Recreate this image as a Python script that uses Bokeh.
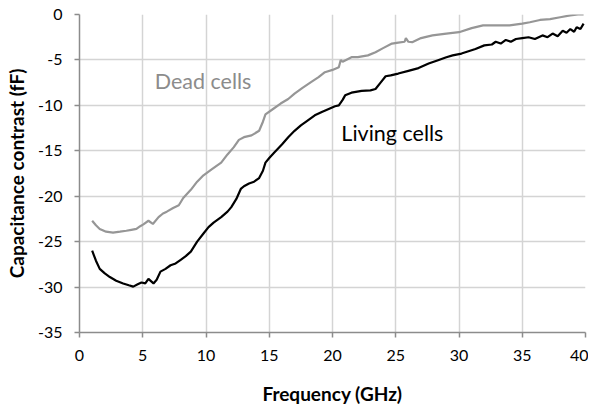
from bokeh.plotting import figure
from bokeh.models import Range1d, FixedTicker, Label, PrintfTickFormatter
from bokeh.embed import file_html
from bokeh.resources import INLINE

# Living cells (black)
living_f = [1.0, 1.3, 1.6, 2.0, 2.4, 2.9, 3.45, 3.9, 4.25, 4.6, 4.9, 5.2, 5.45, 5.85, 6.1,
            6.4, 6.8, 7.2, 7.6, 8.0, 8.4, 8.8, 9.3, 9.8, 10.2, 10.6, 11.2, 11.7, 12.0, 12.4,
            12.75, 13.0, 13.4, 13.8, 14.2, 14.5, 14.7, 15.0, 15.4, 16.0, 16.5, 17.0, 17.5, 18.0,
            18.6, 19.2, 19.7, 20.2, 20.5, 20.8, 21.0, 21.5, 22.3, 23.0, 23.4, 23.8, 24.2, 24.6,
            25.2, 26.0, 26.8, 27.6, 28.4, 29.0, 29.5, 30.2, 31.3, 32.0, 32.6, 32.9, 33.3, 33.7,
            34.1, 34.5, 35.0, 35.5, 36.0, 36.6, 37.0, 37.4, 37.8, 38.2, 38.5, 38.8, 39.1, 39.3,
            39.6, 39.85]
living_c = [-26.0, -27.1, -28.0, -28.5, -28.9, -29.3, -29.6, -29.8, -29.95, -29.7, -29.5, -29.6,
            -29.1, -29.6, -29.2, -28.3, -28.0, -27.6, -27.4, -27.0, -26.6, -26.1, -25.0, -24.1,
            -23.4, -22.9, -22.3, -21.7, -21.2, -20.3, -19.2, -18.9, -18.6, -18.4, -18.0, -17.2,
            -16.3, -15.8, -15.2, -14.3, -13.5, -12.8, -12.2, -11.7, -11.1, -10.7, -10.4, -10.1,
            -10.0, -9.4, -8.9, -8.6, -8.4, -8.35, -8.2, -7.5, -6.8, -6.7, -6.5, -6.2, -5.9, -5.4,
            -5.0, -4.7, -4.5, -4.3, -3.8, -3.4, -3.3, -3.0, -3.2, -2.8, -3.0, -2.7, -2.6, -2.5,
            -2.7, -2.3, -2.5, -2.1, -2.4, -1.8, -2.0, -1.6, -1.9, -1.4, -1.6, -1.0]

# Dead cells (gray)
dead_f = [1.0, 1.3, 1.6, 2.1, 2.65, 3.2, 3.7, 4.1, 4.5, 4.8, 5.05, 5.45, 5.8, 6.25, 6.6, 6.9,
          7.4, 7.85, 8.2, 8.8, 9.3, 9.8, 10.5, 11.2, 11.7, 12.2, 12.6, 13.0, 13.6, 14.2, 14.5,
          14.7, 15.3, 15.9, 16.5, 17.0, 17.6, 18.3, 18.9, 19.4, 20.0, 20.5, 20.65, 20.8, 21.5,
          22.0, 22.8, 23.4, 24.0, 24.7, 25.2, 25.7, 25.8, 26.0, 26.3, 27.0, 27.9, 29.0, 30.0,
          31.0, 31.9, 33.0, 34.0, 35.0, 35.6, 36.4, 37.2, 38.0, 38.8, 39.4, 39.85]
dead_c = [-22.7, -23.2, -23.6, -23.9, -24.0, -23.9, -23.8, -23.7, -23.6, -23.3, -23.1, -22.7,
          -23.05, -22.3, -21.9, -21.7, -21.3, -21.0, -20.2, -19.3, -18.4, -17.7, -17.0, -16.3,
          -15.4, -14.6, -13.8, -13.5, -13.3, -12.8, -11.8, -11.0, -10.4, -9.8, -9.3, -8.7, -8.1,
          -7.45, -6.9, -6.35, -6.1, -5.8, -5.0, -5.2, -4.7, -4.7, -4.5, -4.15, -3.7, -3.2, -3.1,
          -3.0, -2.6, -3.0, -3.05, -2.6, -2.3, -2.1, -1.95, -1.5, -1.2, -1.2, -1.2, -1.0, -0.85,
          -0.6, -0.5, -0.3, -0.1, 0.0, 0.0]

x_ticks = [0, 5, 10, 15, 20, 25, 30, 35, 40]
y_ticks = [0, -5, -10, -15, -20, -25, -30, -35]

FONT = "Lato"
GRID = "#d4d4d4"
AXIS = "#8c8c8c"

p = figure(width=588, height=408, output_backend="svg", toolbar_location=None,
           x_range=Range1d(0, 40), y_range=Range1d(-35, 0),
           min_border_left=79, min_border_top=14, min_border_right=3, min_border_bottom=76)
p.background_fill_color = "white"
p.border_fill_color = "white"
p.outline_line_color = None

for ax in (p.xaxis, p.yaxis):
    ax.axis_line_color = AXIS
    ax.axis_line_width = 1.5
    ax.major_tick_line_color = AXIS
    ax.major_tick_line_width = 1.5
    ax.major_tick_out = 5
    ax.major_tick_in = 0
    ax.minor_tick_line_color = None
    ax.major_label_text_font = FONT
    ax.major_label_text_font_size = "16px"
    ax.major_label_text_color = "#000000"
    ax.axis_label_text_font = FONT
    ax.axis_label_text_font_size = "19px"
    ax.axis_label_text_font_style = "bold"
    ax.axis_label_text_color = "#000000"

p.xaxis.ticker = FixedTicker(ticks=x_ticks)
p.yaxis.ticker = FixedTicker(ticks=y_ticks)
p.xaxis.formatter = PrintfTickFormatter(format="%d")
p.yaxis.formatter = PrintfTickFormatter(format="%d")
p.xaxis.axis_label = "Frequency (GHz)"
p.yaxis.axis_label = "Capacitance contrast (fF)"
p.xaxis.major_label_standoff = 12
p.yaxis.major_label_standoff = 12
p.xaxis.axis_label_standoff = 18
p.yaxis.axis_label_standoff = 7

p.xgrid.ticker = FixedTicker(ticks=x_ticks)
p.ygrid.ticker = FixedTicker(ticks=y_ticks)
p.xgrid.grid_line_color = GRID
p.ygrid.grid_line_color = GRID
p.xgrid.grid_line_width = 1.5
p.ygrid.grid_line_width = 1.5

p.line(dead_f, dead_c, line_color="#969696", line_width=2.2)
p.line(living_f, living_c, line_color="#000000", line_width=2.2)

p.add_layout(Label(x=5.95, y=-7.3, text="Dead cells", text_font=FONT, text_font_size="21.5px",
                   text_color="#8c8c8c", text_baseline="middle", text_align="left"))
p.add_layout(Label(x=20.7, y=-13.0, text="Living cells", text_font=FONT, text_font_size="21.5px",
                   text_color="#000000", text_baseline="middle", text_align="left"))

open("out.html", "w").write(file_html(p, INLINE))
